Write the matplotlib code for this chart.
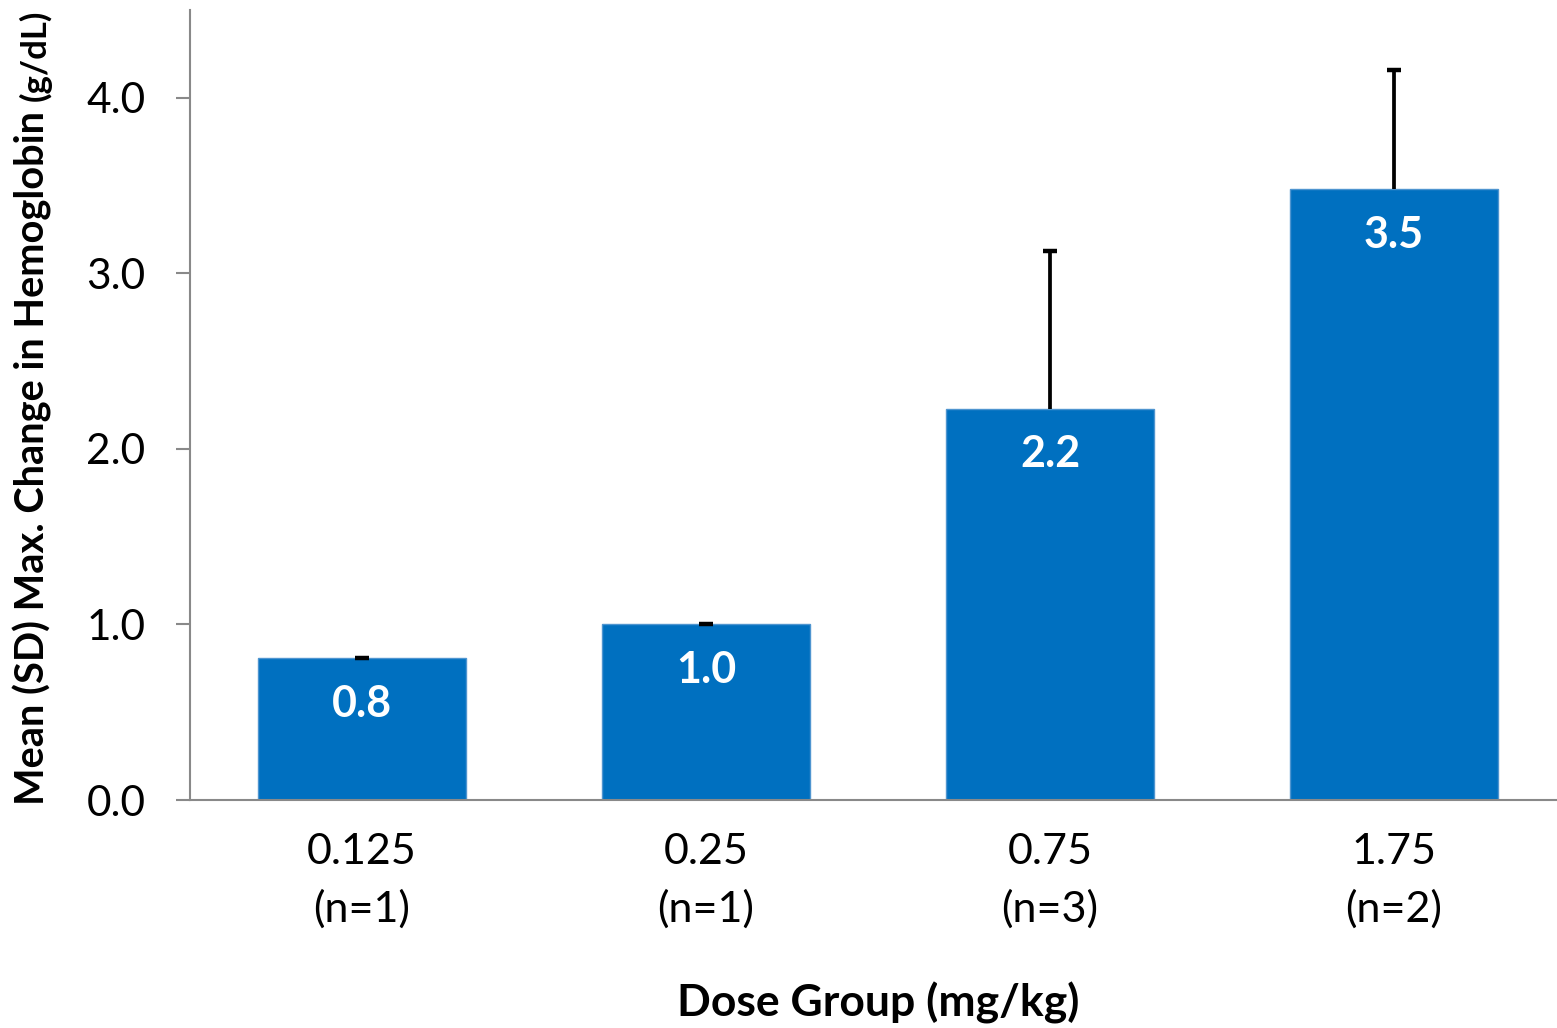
import matplotlib.pyplot as plt

# -----------------------------
# Dados
# -----------------------------
doses = ["0.125", "0.25", "0.75", "1.75"]
n_por_grupo = [1, 1, 3, 2]
media = [0.81, 1.0, 2.23, 3.48]
desvio = [0.0, 0.0, 0.90, 0.68]
rotulos = ["0.8", "1.0", "2.2", "3.5"]

AZUL = "#0070C0"
CINZA = "#898989"
FONTE = "Lato"

plt.rcParams["font.family"] = [FONTE, "DejaVu Sans"]

fig = plt.figure(figsize=(15.57, 10.28), dpi=100)
ax = fig.add_axes([190 / 1557, 228 / 1028, 1376 / 1557, 790 / 1028])

x = list(range(len(doses)))
ax.bar(x, media, width=0.605, color=AZUL, edgecolor="#4F95D0", linewidth=1, zorder=2)

# barra de erro só para cima, sem tampa inferior
topos = [m + s for m, s in zip(media, desvio)]
ax.vlines(x, media, topos, colors="black", linewidth=2.7, zorder=3)
ax.scatter(x, topos, marker="_", s=110, linewidths=3.2, color="black", zorder=3)

for xi, m, r in zip(x, media, rotulos):
    ax.annotate(r, xy=(xi, m), xytext=(0, -33), textcoords="offset points",
                ha="center", va="center", color="white", fontsize=31,
                fontweight="bold", zorder=4)

ax.set_xlim(-0.5, 3.5)
ax.set_ylim(0, 4.5)
ax.set_yticks([0, 1, 2, 3, 4])
ax.set_yticklabels([f"{v:.1f}" for v in [0, 1, 2, 3, 4]])
ax.set_xticks(x)
ax.set_xticklabels([f"{d}\n(n={n})" for d, n in zip(doses, n_por_grupo)],
                   linespacing=1.55)

ax.tick_params(axis="y", direction="out", length=10, width=1.5, color=CINZA,
               labelsize=30.5, pad=22)
ax.tick_params(axis="x", length=0, labelsize=31, pad=24)

for lado in ["top", "right"]:
    ax.spines[lado].set_visible(False)
for lado in ["left", "bottom"]:
    ax.spines[lado].set_color(CINZA)
    ax.spines[lado].set_linewidth(1.5)

# rótulo do eixo x
fig.text((190 + 1376 / 2) / 1557, 25 / 1028, "Dose Group (mg/kg)",
         ha="center", va="center", fontsize=32, fontweight="bold")

# rótulo do eixo y (com unidade menor)
t1 = fig.text(52 / 1557, (1028 - 805) / 1028,
              "Mean (SD) Max. Change in Hemoglobin ",
              rotation=90, ha="right", va="bottom", fontsize=28.6, fontweight="bold")
ax.annotate("(g/dL)", xy=(1, 1), xycoords=t1, ha="right", va="bottom",
            rotation=90, fontsize=25, fontweight="bold", annotation_clip=False)

fig.savefig("out.png", dpi=100)
